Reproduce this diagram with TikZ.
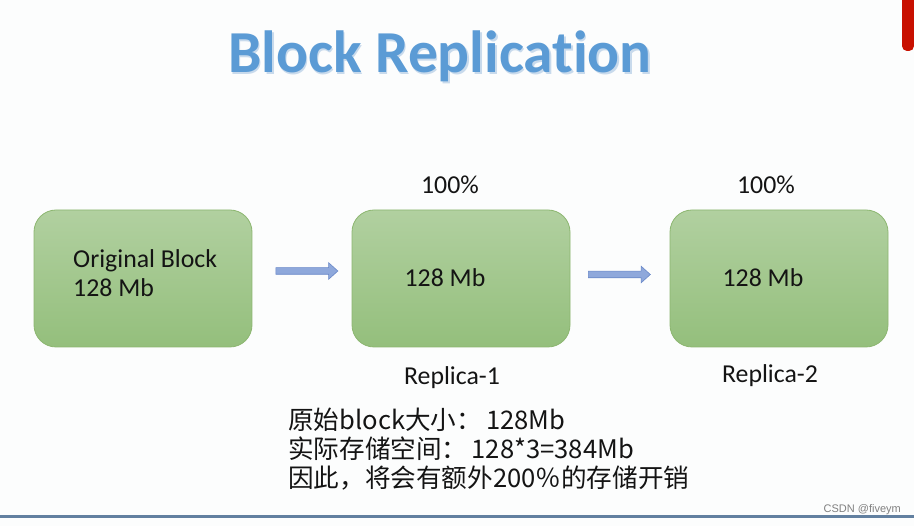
\documentclass[tikz,border=0pt]{standalone}
\usepackage{fontspec}
\setmainfont{Carlito}
\newfontfamily\titlefont[Ligatures={NoCommon,NoRare,NoContextual}]{Carlito}
\newfontfamily\cjk{Noto Sans CJK SC}
\newfontfamily\wmfont{Liberation Sans}
\usetikzlibrary{shapes.arrows}
\definecolor{bgc}{RGB}{252,253,253}
\definecolor{titleblue}{RGB}{91,155,213}
\definecolor{titleshadow}{RGB}{200,218,236}
\definecolor{boxtop}{RGB}{177,208,160}
\definecolor{boxbot}{RGB}{148,191,124}
\definecolor{boxedge}{RGB}{140,182,112}
\definecolor{arrfill}{RGB}{142,168,219}
\definecolor{arredge}{RGB}{105,136,200}
\definecolor{rulec}{RGB}{98,128,160}
\definecolor{tabred}{RGB}{200,16,0}
\definecolor{txt}{RGB}{20,20,20}
\tikzset{
  blockbox/.style={draw=boxedge, line width=0.8pt, top color=boxtop, bottom color=boxbot,
    rounded corners=22pt, minimum width=218pt, minimum height=137pt, inner sep=0pt},
  lbl/.style={font=\fontsize{25.8}{29}\selectfont, text=txt, inner sep=0pt, anchor=base},
  cjkline/.style={font=\cjk\fontsize{25.6}{29}\selectfont, text=txt, inner sep=0pt, anchor=base west},
  blockarrow/.style={single arrow, draw=arredge, fill=arrfill, line width=0.6pt,
    minimum height=62pt, minimum width=16pt, single arrow head extend=5pt,
    single arrow tip angle=84, inner sep=3pt},
  titletext/.style={font=\titlefont\bfseries\fontsize{59.5}{62}\selectfont, inner sep=0pt, anchor=base}
}
\begin{document}
\begin{tikzpicture}[x=1pt,y=-1pt]
\useasboundingbox (0,0) rectangle (914,526);
\fill[bgc] (0,0) rectangle (914,526);
% red tab top right
\fill[tabred] (902,0) -- (902,45) [rounded corners=5pt] -- (902,51) -- (914,51) [sharp corners] -- (914,0) -- cycle;
% title
\node[titletext, text=titleshadow] (titleshadow) at (441.5,74.5) {Block Replication};
\node[titletext, text=titleblue] (title) at (440,73) {Block Replication};
% boxes
\node[blockbox] (orig) at (143,278.5) {};
\node[blockbox] (rep1) at (461,278.5) {};
\node[blockbox] (rep2) at (779,278.5) {};
% box texts
\node[lbl, anchor=base west] (origtxt1) at (73,268) {Original Block};
\node[lbl, anchor=base west] (origtxt2) at (73,297) {128 Mb};
\node[lbl] (rep1txt) at (445,287) {128 Mb};
\node[lbl] (rep2txt) at (763,287) {128 Mb};
\node[lbl] (pct1) at (450,194) {100\%};
\node[lbl] (pct2) at (766,194) {100\%};
\node[lbl] (rep1name) at (452,385) {Replica-1};
\node[lbl] (rep2name) at (770,383) {Replica-2};
% arrows
\node[blockarrow] (arr1) at (305,271) {};
\node[blockarrow] (arr2) at (617.5,274.5) {};
% chinese notes
\node[cjkline] (note1) at (288,430) {原始block大小：\,128Mb};
\node[cjkline] (note2) at (288,459) {实际存储空间：\,128*3=384Mb};
\node[cjkline] (note3) at (288,488) {因此，将会有额外200％的存储开销};
% bottom rule
\coordinate (ruleL) at (0,516.5);
\coordinate (ruleR) at (914,516.5);
\draw[rulec, line width=2.2pt] (ruleL) -- (ruleR);
% watermark
\node[font=\wmfont\fontsize{11}{12}\selectfont, text=black!50, inner sep=0pt, anchor=base east] (wm) at (901,513) {CSDN @fiveym};
\end{tikzpicture}
\end{document}
